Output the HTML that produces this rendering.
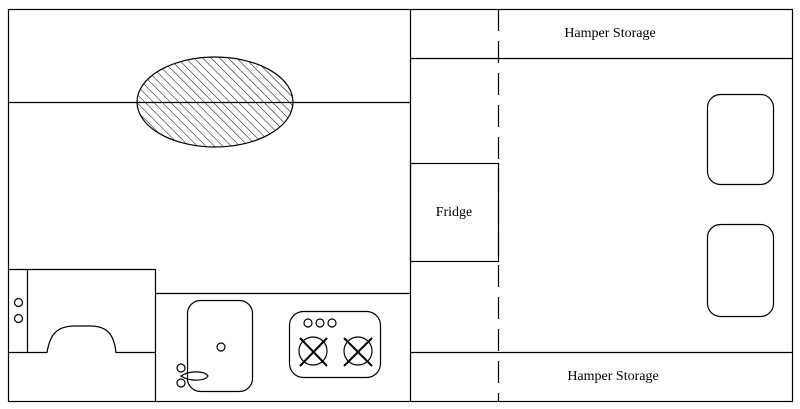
<!DOCTYPE html>
<html><head><style>html,body{margin:0;padding:0;background:#fff}svg{display:block}</style></head><body>
<svg width="800" height="409" xmlns="http://www.w3.org/2000/svg">
<defs><pattern id="h" patternUnits="userSpaceOnUse" width="6" height="6" patternTransform="rotate(-45)"><line x1="0" y1="0" x2="0" y2="6" stroke="#000" stroke-width="1"/></pattern></defs>
<g fill="none" stroke="#000" stroke-width="1.2">
<rect x="8.5" y="9.5" width="784" height="392"/>
<line x1="410.5" y1="9" x2="410.5" y2="402"/>
<line x1="498.5" y1="9" x2="498.5" y2="402" stroke-dasharray="22 10"/>
<line x1="410" y1="58.5" x2="793" y2="58.5"/>
<line x1="410" y1="352.5" x2="793" y2="352.5"/>
<rect x="410.5" y="163.5" width="88" height="98"/>
<line x1="8" y1="102.5" x2="410" y2="102.5"/>
<ellipse cx="215" cy="102" rx="78" ry="45" fill="url(#h)"/>
<line x1="8" y1="269.5" x2="155" y2="269.5"/>
<line x1="155.5" y1="269" x2="155.5" y2="402"/>
<line x1="155" y1="293.5" x2="410" y2="293.5"/>
<line x1="27.5" y1="269" x2="27.5" y2="352"/>
<path d="M8 352.5 H47 C50 335 56 326 75 326 H90 C108 326 114 335 116 352.5 H155"/>
<circle cx="18.5" cy="302.5" r="4"/><circle cx="18.5" cy="318.5" r="4"/>
<rect x="187.5" y="300.5" width="65" height="91" rx="13"/>
<circle cx="221" cy="347" r="4"/>
<circle cx="181" cy="368" r="4"/><circle cx="181" cy="383" r="4"/>
<path d="M181 376 C190 370 205 371 208 376 C205 381 190 382 181 376Z"/>
<rect x="289.5" y="311.5" width="91" height="66" rx="14"/>
<circle cx="308" cy="323" r="4"/><circle cx="320" cy="323" r="4"/><circle cx="332" cy="323" r="4"/>
<circle cx="313" cy="351" r="14"/><circle cx="358" cy="351" r="14"/>
<g stroke-width="2"><path d="M300 338 L327 366 M327 338 L300 366 M344 338 L372 366 M372 338 L344 366"/></g>
<rect x="707.5" y="94.5" width="66" height="90" rx="13"/>
<rect x="707.5" y="224.5" width="66" height="92" rx="13"/>
</g>
<g font-family="Liberation Serif, serif" font-size="14" text-anchor="middle" fill="#000">
<text x="610" y="37">Hamper Storage</text>
<text x="613" y="380">Hamper Storage</text>
<text x="454" y="216">Fridge</text>
</g>
</svg>
</body></html>
